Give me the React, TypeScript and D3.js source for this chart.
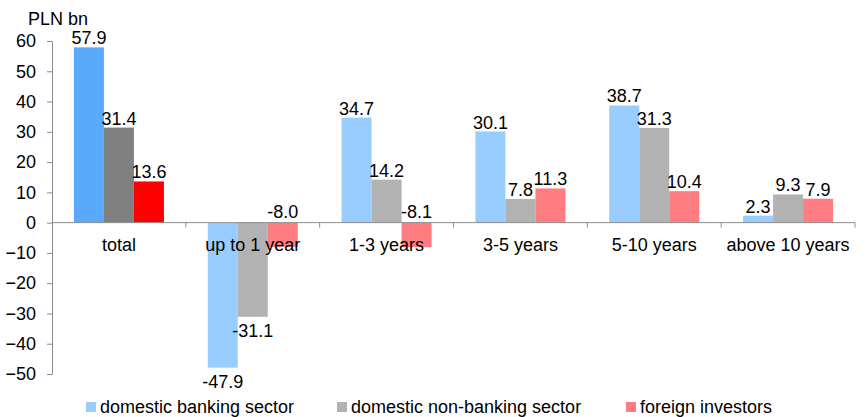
import React, { useRef, useEffect } from 'react';
import * as d3 from 'd3';

const categories = ['total', 'up to 1 year', '1-3 years', '3-5 years', '5-10 years', 'above 10 years'];
const seriesNames = ['domestic banking sector', 'domestic non-banking sector', 'foreign investors'];
const banking = [57.9, -47.9, 34.7, 30.1, 38.7, 2.3];
const nonBanking = [31.4, -31.1, 14.2, 7.8, 31.3, 9.3];
const foreign = [13.6, -8.0, -8.1, 11.3, 10.4, 7.9];
const yTicks = [-50, -40, -30, -20, -10, 0, 10, 20, 30, 40, 50, 60];

// total uses the strong colours, the maturity buckets the light ones
const strongColors = ['#59A9FC', '#808080', '#FF0000'];
const lightColors = ['#99CCFF', '#B2B2B2', '#FF7C80'];

export default function App() {
  const ref = useRef<SVGSVGElement>(null);

  useEffect(() => {
    const svg = d3.select(ref.current);
    svg.selectAll('*').remove();

    const width = 866;
    const height = 417;
    const font = 'Liberation Sans, Arial, sans-serif';
    const series = [banking, nonBanking, foreign];

    const x = d3.scaleBand<string>().domain(categories).range([52, 855]);
    const inner = d3.scaleBand<number>()
      .domain([0, 1, 2])
      .range([0, x.bandwidth()])
      .paddingOuter(0.73)
      .paddingInner(0);
    const y = d3.scaleLinear().domain([-50, 60]).range([374, 41]);

    // y axis
    const yAxis = svg.append('g')
      .attr('transform', 'translate(52,0)')
      .call(d3.axisLeft(y).tickValues(yTicks).tickSize(5).tickFormat(d3.format('d')));
    yAxis.select('.domain').attr('stroke', '#8c8c8c');
    yAxis.selectAll('.tick line').attr('stroke', '#8c8c8c');
    yAxis.selectAll('.tick text')
      .attr('font-family', font).attr('font-size', 18).attr('fill', '#000').attr('x', -16);

    // bars
    categories.forEach((c, ci) => {
      series.forEach((vals, si) => {
        const v = vals[ci];
        const bx = (x(c) as number) + (inner(si) as number);
        svg.append('rect')
          .attr('x', bx)
          .attr('width', inner.bandwidth())
          .attr('y', y(Math.max(0, v)))
          .attr('height', Math.abs(y(v) - y(0)))
          .attr('fill', ci === 0 ? strongColors[si] : lightColors[si]);

        let ty: number;
        if (v >= 0) ty = y(v) - 3;
        else if (v > -10) ty = y(0) - 5;
        else ty = y(v) + 20;
        svg.append('text')
          .attr('x', bx + inner.bandwidth() / 2)
          .attr('y', ty)
          .attr('text-anchor', 'middle')
          .attr('font-family', font)
          .attr('font-size', 18)
          .attr('fill', '#000')
          .text(v.toFixed(1));
      });
    });

    // x axis at zero
    const xAxis = svg.append('g')
      .attr('transform', `translate(0,${y(0)})`);
    xAxis.append('line')
      .attr('x1', 52).attr('x2', 855)
      .attr('stroke', '#8c8c8c');
    const edges = categories.map(c => (x(c) as number) + x.bandwidth());
    xAxis.selectAll('line.tk')
      .data(edges)
      .join('line')
      .attr('class', 'tk')
      .attr('x1', d => d).attr('x2', d => d)
      .attr('y1', 0).attr('y2', 5)
      .attr('stroke', '#8c8c8c');
    xAxis.selectAll('text')
      .data(categories)
      .join('text')
      .attr('x', d => (x(d) as number) + x.bandwidth() / 2)
      .attr('y', 28)
      .attr('text-anchor', 'middle')
      .attr('font-family', font)
      .attr('font-size', 18)
      .attr('fill', '#000')
      .text(d => d);

    svg.append('text')
      .attr('x', 28).attr('y', 25)
      .attr('font-family', font).attr('font-size', 18).attr('fill', '#000')
      .text('PLN bn');

    // legend
    const legendX = [86, 337, 626];
    seriesNames.forEach((name, i) => {
      svg.append('rect')
        .attr('x', legendX[i]).attr('y', 402)
        .attr('width', 10).attr('height', 10)
        .attr('fill', lightColors[i]);
      svg.append('text')
        .attr('x', legendX[i] + 14).attr('y', 413)
        .attr('font-family', font).attr('font-size', 18).attr('fill', '#000')
        .text(name);
    });

    svg.attr('width', width).attr('height', height);
  }, []);

  return (
    <svg ref={ref} width={866} height={417}
      style={{ position: 'absolute', left: 0, top: 0, background: '#fff' }} />
  );
}
